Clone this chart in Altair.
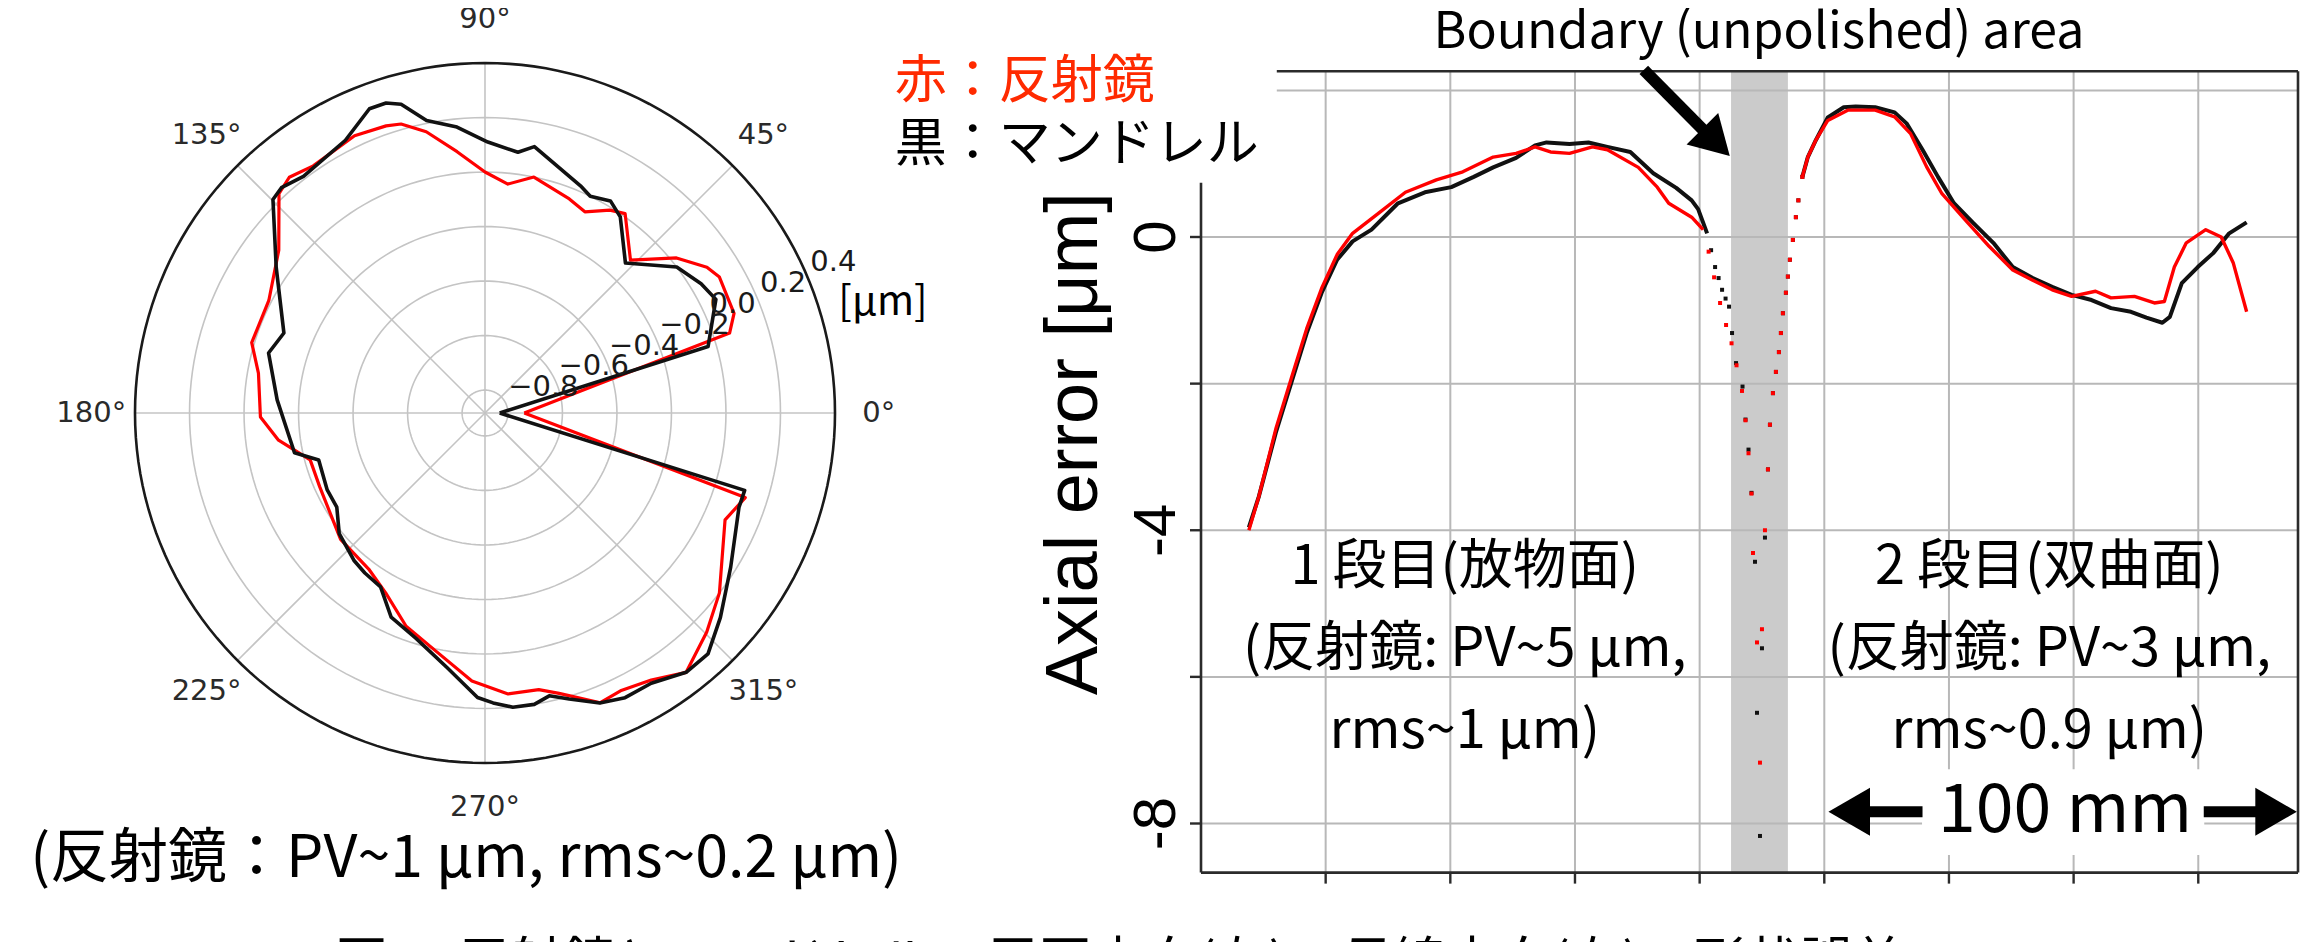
import altair as alt
import pandas as pd

# ---------------- data: polar panel (angle in degrees, error in um) ----------------
POL_BLACK_ANG = [0, 16.6, 26.2, 30.9, 37.3, 46.9, 55.4, 59.4, 64.1, 67.2, 79.5, 82.8, 89.4, 95.6,
                 101.3, 105.2, 107.7, 110.8, 117.1, 127.5, 132.1, 134.8, 145.1, 158.3, 164.5, 176.4,
                 191.8, 195.8, 206.0, 212.4, 219.6, 228.5, 233.1, 239.0, 245.3, 252.9, 261.5, 268.5,
                 271.6, 275.4, 279.6, 282.8, 286.4, 291.6, 296.2, 301.6, 307.8, 312.8, 319.0, 327.9,
                 339.6, 343.4, 360]
POL_BLACK_VAL = [-0.83, -0.03, 0.06, 0.04, 0.00, -0.13, -0.01, 0.02, 0.00, 0.02, 0.11, 0.08, 0.11, 0.17,
                 0.21, 0.29, 0.31, 0.31, 0.24, 0.21, 0.23, 0.22, 0.05, -0.09, -0.06, -0.12,
                 -0.17, -0.25, -0.24, -0.24, -0.19, -0.16, -0.15, -0.14, -0.06, -0.02, 0.06, 0.16,
                 0.18, 0.20, 0.20, 0.18, 0.21, 0.26, 0.28, 0.28, 0.32, 0.32, 0.26, 0.18,
                 0.11, 0.11, -0.83]
POL_RED_ANG = [0, 18.1, 21.8, 30.1, 33.3, 39.0, 46.4, 54.9, 58.4, 63.6, 68.5, 78.3, 84.3, 90.0, 96.1,
               101.8, 106.2, 109.0, 115.2, 124.8, 129.7, 133.2, 141.7, 152.5, 163.2, 170.0, 181.0,
               187.5, 195.0, 204.0, 221.2, 233.3, 241.1, 249.7, 258.6, 267.2, 274.7, 281.0, 284.8,
               291.7, 296.0, 301.9, 307.8, 315.3, 322.5, 336.0, 342.0, 360]
POL_RED_VAL = [-0.74, 0.06, 0.10, 0.11, 0.09, 0.02, -0.11, 0.01, -0.01, -0.06, -0.04, 0.00, -0.04, 0.00, 0.08,
               0.17, 0.22, 0.23, 0.24, 0.22, 0.24, 0.22, 0.08, 0.01, 0.01, -0.04, -0.06,
               -0.12, -0.22, -0.22, -0.18, -0.17, -0.13, -0.05, 0.01, 0.10, 0.15, 0.15, 0.18,
               0.26, 0.25, 0.27, 0.32, 0.26, 0.20, 0.08, 0.12, -0.74]
R_MIN, R_MAX = -0.884, 0.4
RING_VALUES = [-0.8, -0.6, -0.4, -0.2, 0.0, 0.2]
RLABEL_VALUES = [-0.8, -0.6, -0.4, -0.2, 0.0, 0.2, 0.4]
RLABEL_TEXT = ["\u22120.8", "\u22120.6", "\u22120.4", "\u22120.2", "0.0", "0.2", "0.4"]
SPOKE_ANGLES = [0, 45, 90, 135, 180, 225, 270, 315]
SPOKE_LABELS = ["0°", "45°", "90°", "135°", "180°", "225°", "270°", "315°"]

# ---------------- data: axial profile (position mm, error um) ----------------
BLK_L_X = [9.6, 11.6, 15.0, 18.1, 21.2, 24.2, 27.3, 30.4, 34.2, 39.5, 44.9, 50.2, 54.7, 58.6, 63.2,
           67.0, 69.3, 73.9, 77.7, 81.5, 86.1, 90.7, 95.3, 98.4, 99.7, 101.5]
BLK_L_Y = [-3.96, -3.54, -2.67, -1.99, -1.31, -0.76, -0.31, -0.06, 0.10, 0.46, 0.61, 0.68, 0.82, 0.95, 1.08,
           1.25, 1.29, 1.27, 1.29, 1.23, 1.16, 0.87, 0.67, 0.50, 0.38, 0.05]
BLK_W_X = [102.3, 103.1, 103.8, 104.5, 105.2, 105.9, 106.5, 107.3, 108.6, 109.2, 109.8, 110.4, 111.1, 111.5,
           112.1, 112.5, 113.1, 113.7, 114.1, 114.7, 115.3, 115.9, 116.3, 116.7, 117.3, 117.7, 118.1, 118.7,
           119.3, 119.8, 120.6]
BLK_W_Y = [-0.18, -0.41, -0.56, -0.72, -0.84, -0.95, -1.31, -1.72, -2.04, -2.49, -2.90, -3.49, -4.43, -6.49,
           -8.17, -5.61, -4.10, -3.17, -2.56, -2.13, -1.84, -1.57, -1.31, -1.04, -0.76, -0.54, -0.31, -0.04,
           0.27, 0.50, 0.82]
BLK_R_X = [120.6, 121.7, 123.3, 125.7, 128.9, 131.3, 135.2, 139.1, 141.5, 144.7, 147.8, 151.0, 154.9, 158.9,
           162.8, 166.8, 170.7, 174.6, 178.6, 182.5, 186.5, 189.6, 192.8, 194.3, 196.7, 199.9, 203.0, 206.2, 209.7]
BLK_R_Y = [0.82, 1.09, 1.32, 1.63, 1.77, 1.78, 1.77, 1.70, 1.55, 1.19, 0.82, 0.46, 0.19, -0.08,
           -0.41, -0.56, -0.68, -0.79, -0.86, -0.97, -1.02, -1.10, -1.17, -1.09, -0.63, -0.41, -0.22, 0.05, 0.20]
RED_L_X = [9.6, 11.6, 15.0, 18.1, 21.2, 24.2, 27.3, 30.4, 35.7, 41.0, 47.2, 52.5, 58.6, 63.2, 67.0, 70.1,
           73.9, 78.5, 81.5, 87.7, 91.5, 93.8, 98.4, 100.7]
RED_L_Y = [-4.0, -3.54, -2.62, -1.93, -1.25, -0.70, -0.24, 0.05, 0.33, 0.61, 0.78, 0.89, 1.09, 1.14, 1.23, 1.16,
           1.14, 1.23, 1.19, 0.95, 0.68, 0.46, 0.27, 0.10]
RED_W_X = [101.8, 102.9, 104.1, 105.3, 106.4, 107.4, 108.5, 109.2, 109.8, 110.4, 110.7, 111.5, 112.1, 112.5,
           113.1, 113.7, 114.1, 114.7, 115.3, 115.9, 116.3, 116.7, 117.3, 117.7, 118.1, 118.7, 119.3, 119.8, 120.6]
RED_W_Y = [-0.20, -0.55, -0.90, -1.20, -1.45, -1.75, -2.10, -2.50, -2.95, -3.50, -4.31, -5.53, -7.17, -5.35,
           -4.00, -3.17, -2.56, -2.13, -1.84, -1.57, -1.31, -1.04, -0.76, -0.54, -0.31, -0.04, 0.27, 0.50, 0.82]
RED_R_X = [120.6, 121.7, 123.3, 125.7, 129.7, 135.2, 139.1, 142.3, 145.5, 148.6, 153.3, 158.1, 162.8, 166.8,
           170.7, 174.6, 179.4, 182.5, 187.2, 191.2, 193.2, 195.2, 197.6, 201.5, 204.6, 207.0, 209.7]
RED_R_Y = [0.82, 1.09, 1.32, 1.59, 1.73, 1.73, 1.64, 1.41, 0.96, 0.59, 0.23, -0.13, -0.45, -0.59,
           -0.72, -0.81, -0.74, -0.83, -0.81, -0.90, -0.88, -0.41, -0.08, 0.10, 0.0, -0.35, -1.02]

X_GRID = [25, 50, 75, 100, 125, 150, 175, 200]
Y_GRID = [2, 0, -2, -4, -6, -8]
Y_TICKS = [0, -2, -4, -6, -8]
Y_LABEL_VALUES = [0, -4, -8]
Y_LABEL_TEXT = ["0", "-4", "-8"]
X_MIN, X_MAX = 0, 220
Y_TOP, Y_BOT = 2.26, -8.67
BAND = (106.3, 117.7)

# ---------------- layout (pixels) ----------------
W, H = 2300, 960
CX, CY, R = 477, 405, 350                 # polar centre / outer radius
X0PX, X1PX = 1193, 2290                    # right panel x = 0 / 220 mm
Y0PX, Y8PX = 229, 815.5                    # right panel y = 0 / -8 um
KX = (X1PX - X0PX) / (X_MAX - X_MIN)
KY = (Y8PX - Y0PX) / 8.0

PXS = alt.Scale(domain=[-CX / R, (W - CX) / R], nice=False, zero=False)
PYS = alt.Scale(domain=[-(H - CY) / R, CY / R], nice=False, zero=False)
RXS = alt.Scale(domain=[-X0PX / KX, (W - X0PX) / KX], nice=False, zero=False)
RYS = alt.Scale(domain=[-(H - Y0PX) / KY, Y0PX / KY], nice=False, zero=False)

JP = "Noto Sans CJK JP"
RED_TXT = "#ff2a00"
RED = "#ff0000"
BLACK = "#111111"
GRID = "#b8b8b8"


def PX(f):
    return alt.X(f, type="quantitative", scale=PXS, axis=None)


def PY(f):
    return alt.Y(f, type="quantitative", scale=PYS, axis=None)


def RX(f):
    return alt.X(f, type="quantitative", scale=RXS, axis=None)


def RY(f):
    return alt.Y(f, type="quantitative", scale=RYS, axis=None)


RN = f"(datum.v - ({R_MIN})) / ({R_MAX - R_MIN})"

layers = []

# ---- polar grid rings
ring_base = alt.Chart(pd.DataFrame({"v": RING_VALUES})).transform_calculate(
    a="sequence(0, 362, 2)").transform_flatten(["a"]).transform_calculate(
    rn=RN).transform_calculate(
    px="datum.rn * cos(datum.a * PI / 180)", py="datum.rn * sin(datum.a * PI / 180)")
layers.append(ring_base.mark_line(color="#c4c4c4", strokeWidth=1.6).encode(
    x=PX("px"), y=PY("py"), detail="v:N", order="a:Q"))

# ---- spokes
layers.append(alt.Chart(pd.DataFrame({"ang": SPOKE_ANGLES})).transform_calculate(
    z="0", ex="cos(datum.ang * PI / 180)", ey="sin(datum.ang * PI / 180)").mark_rule(
    color="#c4c4c4", strokeWidth=1.6).encode(
    x=PX("z"), y=PY("z"), x2="ex:Q", y2="ey:Q"))

# ---- outer circle
outer = alt.Chart(pd.DataFrame({"v": [R_MAX]})).transform_calculate(
    a="sequence(0, 362, 2)").transform_flatten(["a"]).transform_calculate(
    rn=RN).transform_calculate(
    px="datum.rn * cos(datum.a * PI / 180)", py="datum.rn * sin(datum.a * PI / 180)")
layers.append(outer.mark_line(color="#1a1a1a", strokeWidth=2.6).encode(
    x=PX("px"), y=PY("py"), order="a:Q"))


def polar_line(angs, vals, color, width):
    df = pd.DataFrame({"i": list(range(len(angs))), "ang": angs, "v": vals})
    return alt.Chart(df).transform_calculate(rn=RN).transform_calculate(
        px="datum.rn * cos(datum.ang * PI / 180)",
        py="datum.rn * sin(datum.ang * PI / 180)").mark_line(
        color=color, strokeWidth=width, strokeJoin="round").encode(
        x=PX("px"), y=PY("py"), order="i:Q")


layers.append(polar_line(POL_RED_ANG, POL_RED_VAL, RED, 3.2))
layers.append(polar_line(POL_BLACK_ANG, POL_BLACK_VAL, BLACK, 3.6))

# ---- radial labels at 22.5 deg
layers.append(alt.Chart(pd.DataFrame({"v": RLABEL_VALUES, "t": RLABEL_TEXT})).transform_calculate(
    rn=RN).transform_calculate(
    px="datum.rn * cos(22.5 * PI / 180)", py="datum.rn * sin(22.5 * PI / 180)").mark_text(
    font="DejaVu Sans", fontSize=29, color="#1a1a1a", align="left", baseline="bottom", dx=2, dy=-2).encode(
    x=PX("px"), y=PY("py"), text="t:N"))

# ---- angle labels
layers.append(alt.Chart(pd.DataFrame({"ang": SPOKE_ANGLES, "t": SPOKE_LABELS})).transform_calculate(
    px="1.125 * cos(datum.ang * PI / 180)", py="1.125 * sin(datum.ang * PI / 180)").mark_text(
    font="DejaVu Sans", fontSize=29, color="#2a2a2a", align="center", baseline="middle").encode(
    x=PX("px"), y=PY("py"), text="t:N"))

# ---- unit label and caption of polar panel
layers.append(alt.Chart(pd.DataFrame({"x": [1.137], "y": [0.314], "t": ["[μm]"]})).mark_text(
    font=JP, fontSize=40, color="#000", align="center", baseline="middle").encode(
    x=PX("x"), y=PY("y"), text="t:N"))
layers.append(alt.Chart(pd.DataFrame({"x": [-0.054], "y": [-1.275], "t": ["(反射鏡：PV~1 μm, rms~0.2 μm)"]})).mark_text(
    font=JP, fontSize=59, color="#000", align="center", baseline="middle").encode(
    x=PX("x"), y=PY("y"), text="t:N"))

# ---------------- right panel ----------------
layers.append(alt.Chart(pd.DataFrame({"x": [BAND[0]], "x2": [BAND[1]], "y": [Y_BOT], "y2": [Y_TOP]})).mark_rect(
    color="#cbcbcb").encode(x=RX("x"), x2="x2:Q", y=RY("y"), y2="y2:Q"))

layers.append(alt.Chart(pd.DataFrame({"x": X_GRID, "y": [Y_BOT] * len(X_GRID), "y2": [Y_TOP] * len(X_GRID)})).mark_rule(
    color=GRID, strokeWidth=2).encode(x=RX("x"), y=RY("y"), y2="y2:Q"))
layers.append(alt.Chart(pd.DataFrame({"y": Y_GRID, "x": [X_MIN] * len(Y_GRID), "x2": [X_MAX] * len(Y_GRID)})).mark_rule(
    color=GRID, strokeWidth=2).encode(x=RX("x"), x2="x2:Q", y=RY("y")))

# white box behind the 100 mm scale
layers.append(alt.Chart(pd.DataFrame({"x": [144.6], "x2": [201.2], "y": [-7.26], "y2": [-8.43]})).mark_rect(
    color="white").encode(x=RX("x"), x2="x2:Q", y=RY("y"), y2="y2:Q"))

# frame
frame = pd.DataFrame({"x": [X_MIN, X_MIN, X_MIN, X_MAX], "x2": [X_MAX, X_MAX, X_MIN, X_MAX],
                      "y": [Y_BOT, Y_TOP, Y_BOT, Y_BOT], "y2": [Y_BOT, Y_TOP, Y_TOP, Y_TOP]})
layers.append(alt.Chart(frame).mark_rule(color="#2b2b2b", strokeWidth=2.6).encode(
    x=RX("x"), x2="x2:Q", y=RY("y"), y2="y2:Q"))
# ticks
layers.append(alt.Chart(pd.DataFrame({"x": X_GRID})).transform_calculate(
    y=str(Y_BOT), y2=str(Y_BOT - 11 / KY)).mark_rule(color="#2b2b2b", strokeWidth=2.4).encode(
    x=RX("x"), y=RY("y"), y2="y2:Q"))
layers.append(alt.Chart(pd.DataFrame({"y": Y_TICKS})).transform_calculate(
    x=str(X_MIN), x2=str(X_MIN - 11 / KX)).mark_rule(color="#2b2b2b", strokeWidth=2.4).encode(
    x=RX("x"), x2="x2:Q", y=RY("y")))

# legend box + legend
layers.append(alt.Chart(pd.DataFrame({"x": [-3.2], "x2": [15.2], "y": [0.74], "y2": [2.5]})).mark_rect(
    color="white").encode(x=RX("x"), x2="x2:Q", y=RY("y"), y2="y2:Q"))
layers.append(alt.Chart(pd.DataFrame({"x": [-61.4], "y": [2.11], "t": ["赤：反射鏡"]})).mark_text(
    font=JP, fontSize=52, color=RED_TXT, align="left", baseline="middle").encode(
    x=RX("x"), y=RY("y"), text="t:N"))
layers.append(alt.Chart(pd.DataFrame({"x": [-61.4], "y": [1.25], "t": ["黒：マンドレル"]})).mark_text(
    font=JP, fontSize=52, color="#000", align="left", baseline="middle").encode(
    x=RX("x"), y=RY("y"), text="t:N"))


def rline(xs, ys, color, width):
    df = pd.DataFrame({"i": list(range(len(xs))), "x": xs, "y": ys})
    return alt.Chart(df).mark_line(color=color, strokeWidth=width, strokeJoin="round").encode(
        x=RX("x"), y=RY("y"), order="i:Q")


def rdots(xs, ys, color):
    df = pd.DataFrame({"x": xs, "y": ys})
    return alt.Chart(df).mark_square(color=color, size=16, opacity=1).encode(x=RX("x"), y=RY("y"))


layers += [rline(BLK_L_X, BLK_L_Y, BLACK, 4), rline(BLK_R_X, BLK_R_Y, BLACK, 4), rdots(BLK_W_X, BLK_W_Y, BLACK),
           rline(RED_L_X, RED_L_Y, RED, 3.4), rline(RED_R_X, RED_R_Y, RED, 3.4), rdots(RED_W_X, RED_W_Y, RED)]

# y tick labels (rotated) and axis title
layers.append(alt.Chart(pd.DataFrame({"y": Y_LABEL_VALUES, "t": Y_LABEL_TEXT})).transform_calculate(
    x="-8.8").mark_text(font="Liberation Sans", fontSize=60, angle=270, color="#000",
                        align="center", baseline="middle").encode(x=RX("x"), y=RY("y"), text="t:N"))
layers.append(alt.Chart(pd.DataFrame({"x": [-25.3], "y": [-2.82], "t": ["Axial error [μm]"]})).mark_text(
    font="Liberation Sans", fontSize=74, angle=270, color="#000", align="center", baseline="middle").encode(
    x=RX("x"), y=RY("y"), text="t:N"))

# annotations
layers.append(alt.Chart(pd.DataFrame({"x": [111.9], "y": [2.78], "t": ["Boundary (unpolished) area"]})).mark_text(
    font=JP, fontSize=50, color="#000", align="center", baseline="middle").encode(
    x=RX("x"), y=RY("y"), text="t:N"))
layers.append(alt.Chart(pd.DataFrame({"x": [88.8], "y": [2.28], "x2": [101.3], "y2": [1.42]})).mark_rule(
    color="#000", strokeWidth=12, strokeCap="butt").encode(x=RX("x"), y=RY("y"), x2="x2:Q", y2="y2:Q"))
layers.append(alt.Chart(pd.DataFrame({"x": [103.3], "y": [1.29]})).mark_point(
    shape="triangle-right", filled=True, size=2000, angle=45, color="#000", opacity=1).encode(
    x=RX("x"), y=RY("y")))

TEXT_ROWS_Y = [-4.52, -5.63, -6.75]
LEFT_TEXT = ["1 段目(放物面)", "(反射鏡: PV~5 μm,", "rms~1 μm)"]
RIGHT_TEXT = ["2 段目(双曲面)", "(反射鏡: PV~3 μm,", "rms~0.9 μm)"]
layers.append(alt.Chart(pd.DataFrame({"x": [52.9] * 3, "y": TEXT_ROWS_Y, "t": LEFT_TEXT})).mark_text(
    font=JP, fontSize=54, color="#000", align="center", baseline="middle").encode(
    x=RX("x"), y=RY("y"), text="t:N"))
layers.append(alt.Chart(pd.DataFrame({"x": [170.1] * 3, "y": TEXT_ROWS_Y, "t": RIGHT_TEXT})).mark_text(
    font=JP, fontSize=54, color="#000", align="center", baseline="middle").encode(
    x=RX("x"), y=RY("y"), text="t:N"))

# 100 mm scale arrow
layers.append(alt.Chart(pd.DataFrame({"x": [133.8, 201.1], "x2": [144.7, 211.6], "y": [-7.84, -7.84]})).mark_rule(
    color="#000", strokeWidth=11, strokeCap="butt").encode(x=RX("x"), x2="x2:Q", y=RY("y")))
layers.append(alt.Chart(pd.DataFrame({"x": [130.0], "y": [-7.84]})).mark_point(
    shape="triangle-left", filled=True, size=2300, color="#000", opacity=1).encode(x=RX("x"), y=RY("y")))
layers.append(alt.Chart(pd.DataFrame({"x": [215.6], "y": [-7.84]})).mark_point(
    shape="triangle-right", filled=True, size=2300, color="#000", opacity=1).encode(x=RX("x"), y=RY("y")))
layers.append(alt.Chart(pd.DataFrame({"x": [173.3], "y": [-7.84], "t": ["100 mm"]})).mark_text(
    font=JP, fontSize=68, color="#000", align="center", baseline="middle").encode(
    x=RX("x"), y=RY("y"), text="t:N"))

# figure caption (mostly cut off at the bottom)
layers.append(alt.Chart(pd.DataFrame({"x": [-16.2], "y": [-9.57],
                                      "t": ["図 4. 反射鏡とマンドレルの周囲方向(左)、母線方向(右)の形状誤差"]})).mark_text(
    font=JP, fontSize=53, color="#000", align="center", baseline="top").encode(
    x=RX("x"), y=RY("y"), text="t:N"))

chart = alt.layer(*layers).resolve_scale(x="independent", y="independent").properties(
    width=W, height=H, autosize=alt.AutoSizeParams(type="none"), padding=0
).configure_view(stroke=None)

chart.save("out.html", embed_options={"renderer": "svg", "actions": False})
